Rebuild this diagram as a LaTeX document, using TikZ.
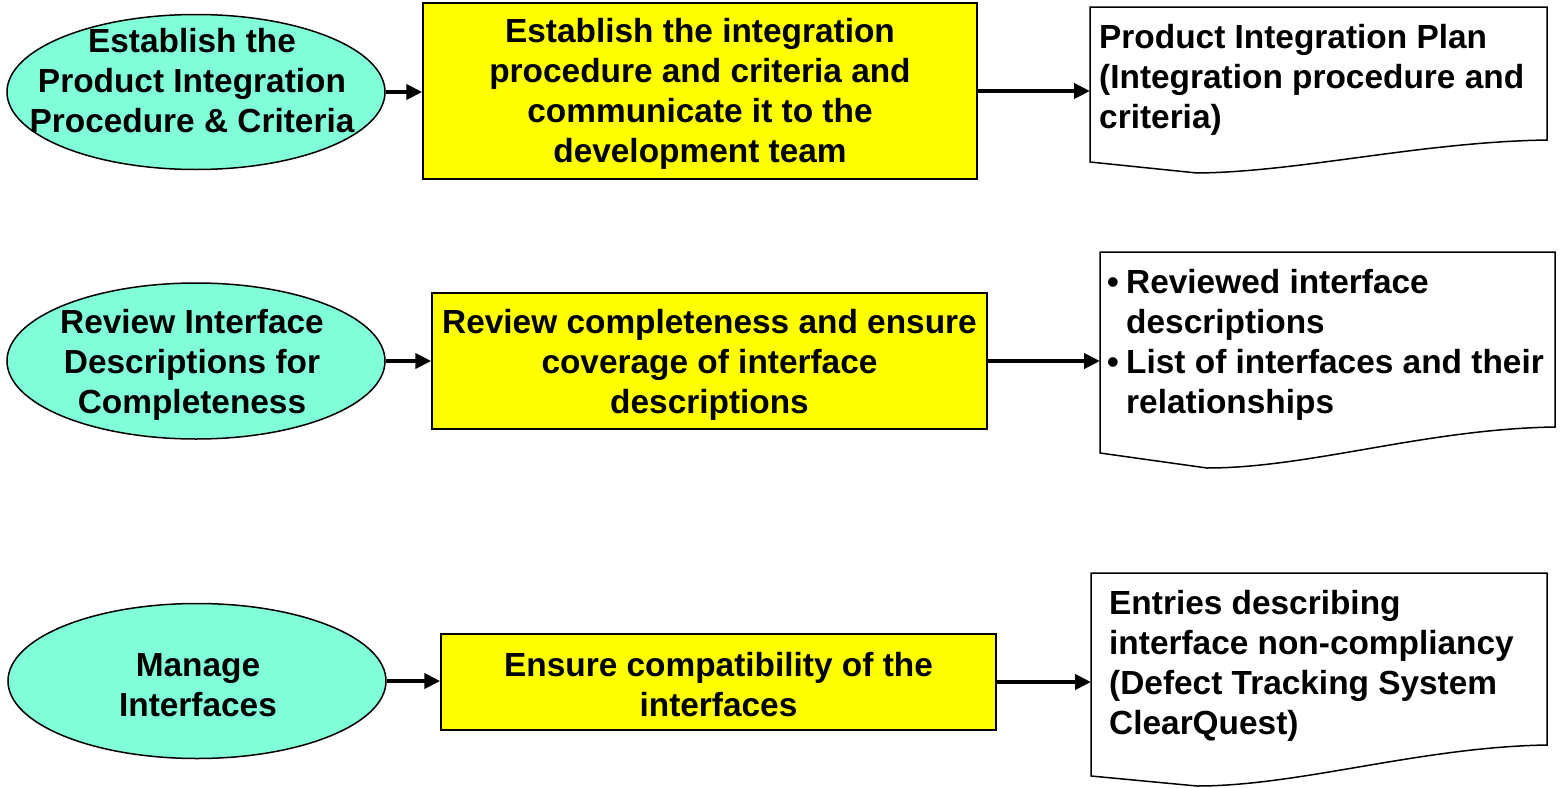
\documentclass[tikz,border=0pt]{standalone}
\usepackage{fontspec}
\setmainfont{Liberation Sans}
\usetikzlibrary{shapes.geometric,arrows.meta}
\definecolor{aqua}{RGB}{128,255,217}
\definecolor{yel}{RGB}{255,255,0}
\begin{document}
\begin{tikzpicture}[x=1pt,y=-1pt,
  every node/.style={font=\fontsize{33.4}{40}\selectfont\bfseries, inner sep=0pt},
  oval/.style={ellipse, draw=black, line width=1.5pt, fill=aqua, minimum width=378pt, minimum height=155pt},
  yelbox/.style={rectangle, draw=black, line width=1.5pt, fill=yel},
  txt/.style={align=center},
  doctxt/.style={align=left, anchor=west},
  docframe/.style={rectangle, draw=none, anchor=north west, minimum width=457pt},
  docline/.style={draw=black, line width=1.5pt, fill=white},
  arr/.style={line width=4pt, -{Triangle[length=16pt,width=15pt]}}
]
\path[use as bounding box, fill=white] (0,0) rectangle (1563,787);

% Row 1
\node[oval] (e1) at (196,92) {};
\node[txt] (e1t) at (192,81) {Establish the\\Product Integration\\Procedure \& Criteria};
\node[yelbox, minimum width=554pt, minimum height=176pt] (b1) at (700,91) {};
\node[txt] (b1t) at (700,94)
  {Establish the integration\\procedure and criteria and\\communicate it to the\\development team};
\node[docframe, minimum height=155pt] (d1) at (1090,7) {};
\path[docline] (1090,7) -- (1547,7) -- (1547,140)
  .. controls (1420,142) and (1300,172) .. (1197,173) -- (1090,162) -- cycle;
\node[doctxt] (d1t) at (1099,80) {Product Integration Plan\\(Integration procedure and\\criteria)};
\draw[arr] (e1.east) -- (b1.west |- e1.east);
\draw[arr] (b1.east) -- (d1.west |- b1.east);

% Row 2
\node[oval, minimum height=156pt] (e2) at (196,361) {};
\node[txt] (e2t) at (192,365) {Review Interface\\Descriptions for\\Completeness};
\node[yelbox, minimum width=555pt, minimum height=136pt] (b2) at (709.5,361) {};
\node[txt] (b2t) at (709.5,365)
  {Review completeness and ensure\\coverage of interface\\descriptions};
\node[docframe, minimum height=201pt] (d2) at (1100,252) {};
\path[docline] (1100,252) -- (1555,252) -- (1555,427)
  .. controls (1425,429) and (1310,468) .. (1207,468) -- (1100,453) -- cycle;
\node[doctxt] (d2t) at (1107,345) {\makebox[19pt][l]{\textbullet}Reviewed interface\\\hspace*{19pt}descriptions\\\makebox[19pt][l]{\textbullet}List of interfaces and their\\\hspace*{19pt}relationships};
\draw[arr] (e2.east) -- (b2.west |- e2.east);
\draw[arr] (b2.east) -- (d2.west |- b2.east);

% Row 3
\node[oval] (e3) at (197,681) {};
\node[txt] (e3t) at (198,685) {Manage\\Interfaces};
\node[yelbox, minimum width=555pt, minimum height=96pt] (b3) at (718.5,682) {};
\node[txt] (b3t) at (718.5,685) {Ensure compatibility of the\\interfaces};
\node[docframe, minimum height=203pt] (d3) at (1091,573) {};
\path[docline] (1091,573) -- (1547,573) -- (1547,745)
  .. controls (1420,747) and (1300,786) .. (1197,786) -- (1091,776) -- cycle;
\node[doctxt] (d3t) at (1109,666) {Entries describing\\interface non-compliancy\\(Defect Tracking System\\ClearQuest)};
\draw[arr] (e3.east) -- (b3.west |- e3.east);
\draw[arr] (b3.east) -- (d3.west |- b3.east);
\end{tikzpicture}
\end{document}
